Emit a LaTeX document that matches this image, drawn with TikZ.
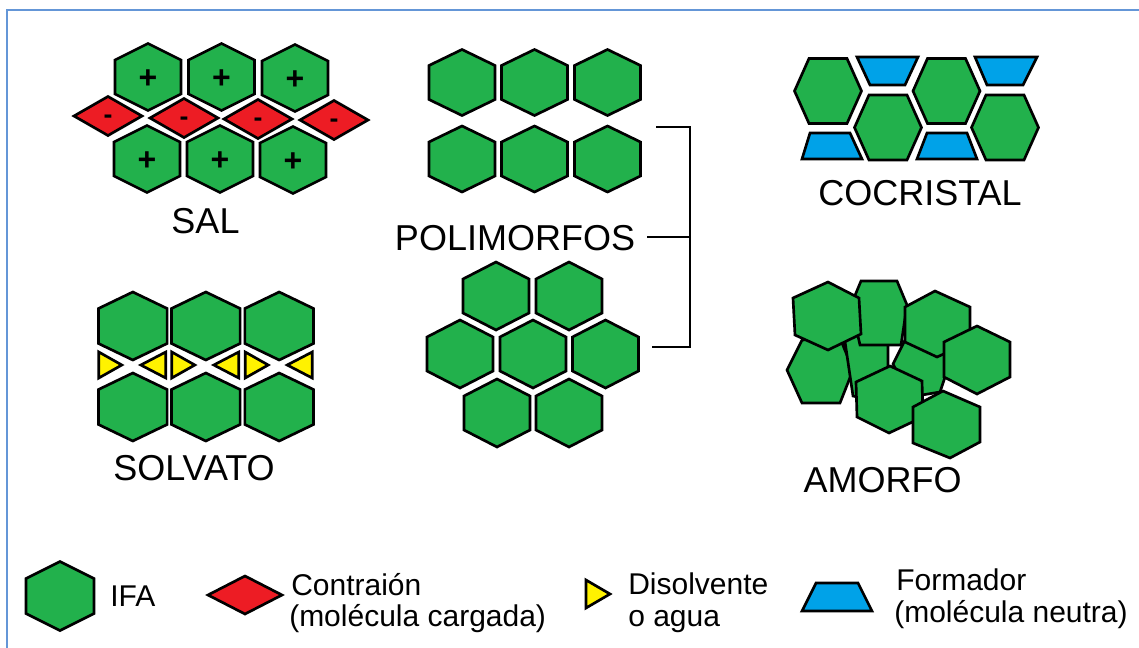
\documentclass[tikz,border=0pt]{standalone}
\usepackage{fontspec}
\setmainfont{Liberation Sans}
\definecolor{ifagreen}{RGB}{34,177,76}
\definecolor{ionred}{RGB}{237,28,36}
\definecolor{solvyellow}{RGB}{255,242,0}
\definecolor{formblue}{RGB}{0,162,232}
\definecolor{framebl}{RGB}{100,150,215}
\newcommand\hexP[5]{\draw[hexs] ({#1-#3},{#2-#5}) -- (#1,{#2-#4}) -- ({#1+#3},{#2-#5}) -- ({#1+#3},{#2+#5}) -- (#1,{#2+#4}) -- ({#1-#3},{#2+#5}) -- cycle;}
\newcommand\hexF[5]{\draw[hexs] ({#1-#3},#2) -- ({#1-#5},{#2-#4}) -- ({#1+#5},{#2-#4}) -- ({#1+#3},#2) -- ({#1+#5},{#2+#4}) -- ({#1-#5},{#2+#4}) -- cycle;}
\newcommand\diamR[4]{\draw[dias] ({#1-#3},#2) -- (#1,{#2-#4}) -- ({#1+#3},#2) -- (#1,{#2+#4}) -- cycle;}
\newcommand\solvcol[1]{%
 \draw[tris] ({#1-34},352) -- ({#1-34},378) -- ({#1-11},365) -- cycle;
 \draw[tris] ({#1+33},352) -- ({#1+33},378) -- ({#1+8},365) -- cycle;}
\begin{document}
\begin{tikzpicture}[x=0.75pt,y=-0.75pt,
  hexs/.style={draw=black,fill=ifagreen,line width=2pt,line join=miter},
  dias/.style={draw=black,fill=ionred,line width=2pt,line join=miter},
  tris/.style={draw=black,fill=solvyellow,line width=2pt,line join=miter},
  traps/.style={draw=black,fill=formblue,line width=2pt,line join=miter},
  lab/.style={font=\fontsize{27}{31}\selectfont,anchor=base,inner sep=0pt},
  leg/.style={font=\fontsize{22.5}{26}\selectfont,anchor=base west,inner sep=0pt},
  sgn/.style={font=\fontsize{24}{26}\selectfont\bfseries,inner sep=0pt},
  mns/.style={font=\fontsize{20}{22}\selectfont\bfseries,inner sep=0pt},
  brk/.style={draw=black,line width=2pt},
  framel/.style={draw=framebl,line width=1.5pt}]
\useasboundingbox (0,0) rectangle (1139,647);
\fill[white] (0,0) rectangle (1139,647);
% frame
\coordinate (fr1) at (7,650);
\coordinate (fr2) at (7,10);
\coordinate (fr3) at (1142,10);
\draw[framel] (fr1) -- (fr2) -- (fr3);

% ---------- SAL ----------
\hexP{148}{77}{33}{33.5}{17}
\hexP{221.5}{77}{33}{33.5}{17}
\hexP{295}{78}{33}{33.5}{17}
\hexP{147}{159}{33}{33.5}{17}
\hexP{220}{159}{33}{33.5}{17}
\hexP{293}{160}{33}{33.5}{17}
\diamR{108}{116}{34}{19.5}
\diamR{184}{118}{34}{19.5}
\diamR{258}{119}{34}{19.5}
\diamR{334}{120}{34}{19.5}
\node[sgn] (p1) at (148,79) {+};
\node[sgn] (p2) at (221.5,79) {+};
\node[sgn] (p3) at (295,80) {+};
\node[sgn] (p4) at (147,161) {+};
\node[sgn] (p5) at (220,161) {+};
\node[sgn] (p6) at (293,162) {+};
\node[mns] (m1) at (108,119) {-};
\node[mns] (m2) at (184,121) {-};
\node[mns] (m3) at (258,122) {-};
\node[mns] (m4) at (334,123) {-};
\node[lab] (sal) at (205.5,233) {SAL};

% ---------- SOLVATO ----------
\hexP{132.8}{326}{34.3}{34}{17.5}
\hexP{205.8}{326}{34.3}{34}{17.5}
\hexP{279.2}{326}{34.3}{34}{17.5}
\hexP{132.8}{407}{34.3}{34}{17.5}
\hexP{205.8}{407}{34.3}{34}{17.5}
\hexP{279.2}{407}{34.3}{34}{17.5}
\solvcol{132.8}
\solvcol{205.8}
\solvcol{279.2}
\node[lab] (solv) at (194,480) {SOLVATO};

% ---------- POLIMORFOS ----------
\hexP{462}{82.5}{33}{33}{17}
\hexP{534.5}{82.5}{33}{33}{17}
\hexP{607.5}{82.5}{33}{33}{17}
\hexP{462}{159}{33}{33}{17}
\hexP{534.5}{159}{33}{33}{17}
\hexP{607.5}{159}{33}{33}{17}
\hexP{496}{296}{33}{34}{17}
\hexP{569}{296}{33}{34}{17}
\hexP{460}{354}{33}{34}{17}
\hexP{533}{354}{33}{34}{17}
\hexP{605.5}{354}{33}{34}{17}
\hexP{497}{413}{33}{34}{17}
\hexP{569}{413}{33}{34}{17}
\node[lab] (polim) at (515,250) {POLIMORFOS};
\coordinate (bt1) at (656,127);
\coordinate (bt2) at (690,127);
\coordinate (bb1) at (652,347);
\coordinate (bb2) at (690,347);
\coordinate (bm1) at (647,237);
\coordinate (bm2) at (690,237);
\draw[brk] (bt1) -- (bt2) -- (bb2) -- (bb1);
\draw[brk] (bm1) -- (bm2);

% ---------- COCRISTAL ----------
\hexF{828}{91}{33.5}{32.5}{19}
\hexF{888}{127.5}{33.5}{32.5}{19}
\hexF{946.5}{91}{33.5}{32.5}{19}
\hexF{1005}{127.5}{33.5}{32.5}{19}
\draw[traps] (857,57) -- (918,57) -- (905,85) -- (870,85) -- cycle;
\draw[traps] (975,57) -- (1037,57) -- (1023,85) -- (987,85) -- cycle;
\draw[traps] (810,133) -- (850,133) -- (862,159) -- (802,159) -- cycle;
\draw[traps] (927,133) -- (967,133) -- (977,159) -- (917,159) -- cycle;
\node[lab] (cocr) at (920,205) {COCRISTAL};

% ---------- AMORFO ----------
\draw[hexs] (787,370) -- (802,340) -- (840,338) -- (853,370) -- (840,403) -- (802,403) -- cycle; % A5
\draw[hexs] (844,335) -- (870,325) -- (888,340) -- (888,375) -- (870,400) -- (853,396) -- cycle; % A6
\draw[hexs] (893,364) -- (905,340) -- (935,335) -- (950,362) -- (940,392) -- (910,397) -- cycle; % A8
\draw[hexs] (861,281) -- (897,281) -- (907,305) -- (901,345) -- (860,345) -- (851,305) -- cycle; % A2
\draw[hexs] (828,282) -- (859,298) -- (861,334) -- (828,350) -- (795,335) -- (793,298) -- cycle; % A1
\draw[hexs] (905,307) -- (935,291) -- (970,307) -- (970,342) -- (937,357) -- (905,342) -- cycle; % A3
\draw[hexs] (977,326) -- (1010,342) -- (1010,377) -- (977,394) -- (944,377) -- (944,342) -- cycle; % A4
\draw[hexs] (890,366) -- (922,381) -- (923,417) -- (889,433) -- (857,417) -- (856,382) -- cycle; % A7
\draw[hexs] (943,391) -- (980,407) -- (980,442) -- (950,458) -- (913,443) -- (913,407) -- cycle; % A9
\node[lab] (amor) at (882.5,492) {AMORFO};

% ---------- LEGEND ----------
\hexP{60}{596}{34}{34.5}{17.5}
\node[leg] (lifa) at (110,606) {IFA};
\diamR{245}{595}{37}{19}
\node[leg] (lcon1) at (291,595) {Contraión};
\node[leg] (lcon2) at (289,626) {(molécula cargada)};
\draw[tris] (586,580) -- (586,608) -- (610,594) -- cycle;
\node[leg] (ldis1) at (628,594) {Disolvente};
\node[leg] (ldis2) at (628,626) {o agua};
\draw[traps] (816,583) -- (858,583) -- (872,611) -- (802,611) -- cycle;
\node[leg] (lfor1) at (896,590) {Formador};
\node[leg] (lfor2) at (894,622) {(molécula neutra)};
\end{tikzpicture}
\end{document}
